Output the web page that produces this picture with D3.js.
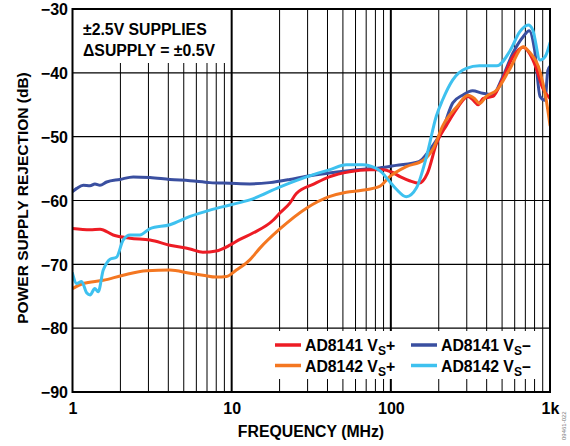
<!DOCTYPE html>
<html><head><meta charset="utf-8">
<script src="https://cdn.jsdelivr.net/npm/d3@7/dist/d3.min.js"></script>
<style>
body{margin:0;background:#fff;}
text{font-family:"Liberation Sans",Arial,sans-serif;font-weight:bold;fill:#000;}
</style></head>
<body><svg id="chart" width="570" height="446"></svg>
<script>
// ---- data (frequency in MHz, rejection in dB) ----
const ad8141PosFreq = [1,1.29,1.49,1.8,2.3,3.07,4.09,5.47,6.6,8.0,9.74,11.25,13.6,18.2,20,23.2,25.5,33,41,55,73.5,90,100,115,131,150,170,194,224,260,305,330,354,380,438,505,585,680,740,820,900,1000];
const ad8141PosDb   = [-64.4,-64.6,-64.5,-65.4,-65.9,-66.2,-67.0,-67.6,-68.1,-67.9,-67.0,-66.1,-65.1,-63.1,-62.0,-60.4,-58.9,-57.4,-56.3,-55.5,-55.2,-55.2,-55.5,-56.3,-56.9,-57.3,-55.7,-51.0,-48.2,-45.6,-43.7,-44.3,-45.0,-44.0,-43.7,-40.9,-37.5,-36.0,-36.9,-39.3,-42.4,-44.0];

const ad8142PosFreq = [1,1.169,1.56,2.08,2.92,4.09,5.47,6.6,8.0,9.3,10.7,13,15,20,29.5,41,52.5,66,85,98,125,160,185,213,260,305,335,360,398,463,562,680,740,866,943,1000];
const ad8142PosDb   = [-73.8,-73.0,-72.5,-71.7,-71.0,-70.9,-71.4,-71.7,-72.0,-71.9,-70.9,-69.3,-67.5,-64.5,-61.2,-59.4,-58.7,-58.4,-57.8,-56.3,-54.7,-53.7,-51.8,-48.2,-45.3,-43.5,-44.0,-44.8,-43.7,-42.7,-39.3,-35.9,-36.7,-39.8,-44.0,-48.2];

const ad8141NegFreq = [1,1.063,1.169,1.288,1.384,1.488,1.639,1.987,2.408,3.065,4.09,5.47,7.3,9.74,13,17.3,23.2,29.5,41,61,85,108,150,176,211,245,282,326,377,437,505,585,680,740,800,866,930,970,1000];
const ad8141NegDb   = [-58.6,-58.1,-57.6,-57.7,-57.4,-57.6,-57.1,-56.7,-56.3,-56.4,-56.7,-56.9,-57.2,-57.3,-57.4,-57.2,-56.7,-56.2,-55.7,-55.2,-54.9,-54.5,-53.9,-52.0,-48.9,-44.7,-43.5,-42.8,-43.2,-43.4,-40.6,-36.9,-34.3,-33.4,-36.4,-43.7,-44.3,-39.6,-39.0];

const ad8142NegFreq = [1,1.063,1.14,1.23,1.29,1.38,1.45,1.56,1.64,1.72,1.89,2.08,2.3,2.65,3.07,4.09,5.47,7.3,9.74,13,20,29.5,41,52.5,66,85,98,108,125,145,168,193,211,245,298,360,463,562,645,730,780,866,930,1000];
const ad8142NegDb   = [-71.4,-73.0,-72.7,-74.5,-74.8,-73.8,-74.3,-70.9,-69.8,-69.2,-68.9,-66.2,-65.4,-65.4,-64.4,-63.8,-62.5,-61.5,-60.7,-59.9,-57.9,-56.3,-55.2,-54.4,-54.4,-55.3,-57.0,-58.2,-59.4,-58.0,-53.0,-46.8,-44.3,-41.1,-39.3,-38.9,-38.9,-36.5,-33.6,-32.5,-33.3,-38.0,-37.5,-35.3];

const seriesNames  = ["AD8141 V", "AD8142 V", "AD8141 V", "AD8142 V"];
const seriesSuffix = ["+", "+", "–", "–"];
const seriesColors = ["#ed1c24", "#f47721", "#3a4fa0", "#3ec1ef"];

const xTickValues = [1, 10, 100, 1000];
const xTickLabels = ["1", "10", "100", "1k"];
const yTickValues = [-90, -80, -70, -60, -50, -40, -30];
const yTickLabels = ["−90", "−80", "−70", "−60", "−50", "−40", "−30"];

const noteLines = ["±2.5V SUPPLIES", "ΔSUPPLY = ±0.5V"];

// ---- layout ----
const svg = d3.select("#chart");
const L = 72.5, R = 550, T = 9, B = 392;
const x = d3.scaleLog().domain([1, 1000]).range([L, R]);
const y = d3.scaleLinear().domain([-90, -30]).range([B, T]);

// grid
const minor = [];
for (let d = 1; d < 1000; d *= 10) for (let k = 2; k <= 9; k++) minor.push(d * k);
const g = svg.append("g");
g.selectAll("line.vmin").data(minor).enter().append("line")
  .attr("x1", d => x(d)).attr("x2", d => x(d)).attr("y1", T).attr("y2", B)
  .attr("stroke", "#000").attr("stroke-width", 1);
g.selectAll("line.vmaj").data([10, 100]).enter().append("line")
  .attr("x1", d => x(d)).attr("x2", d => x(d)).attr("y1", T).attr("y2", B)
  .attr("stroke", "#000").attr("stroke-width", 2);
g.selectAll("line.h").data(yTickValues).enter().append("line")
  .attr("x1", L).attr("x2", R).attr("y1", d => y(d)).attr("y2", d => y(d))
  .attr("stroke", "#000").attr("stroke-width", 1.2);

// note box (covers grid)
svg.append("rect").attr("x", L + 1).attr("y", T + 1).attr("width", 155).attr("height", 53).attr("fill", "#fff");
// legend box
svg.append("rect").attr("x", 269).attr("y", 331).attr("width", 272).attr("height", 48).attr("fill", "#fff");

// curves
svg.append("clipPath").attr("id", "clip").append("rect")
  .attr("x", L).attr("y", T).attr("width", R - L).attr("height", B - T);
const series = [
  {f: ad8141PosFreq, v: ad8141PosDb},
  {f: ad8142PosFreq, v: ad8142PosDb},
  {f: ad8141NegFreq, v: ad8141NegDb},
  {f: ad8142NegFreq, v: ad8142NegDb}
];
const line = d3.line().x(d => x(d[0])).y(d => y(d[1])).curve(d3.curveMonotoneX);
const drawOrder = [2, 0, 1, 3];
const cg = svg.append("g").attr("clip-path", "url(#clip)");
drawOrder.forEach(i => {
  const pts = series[i].f.map((f, j) => [f, series[i].v[j]]);
  cg.append("path").attr("d", line(pts)).attr("fill", "none")
    .attr("stroke", seriesColors[i]).attr("stroke-width", 3)
    .attr("stroke-linejoin", "round").attr("stroke-linecap", "round");
});

// frame
svg.append("rect").attr("x", L).attr("y", T).attr("width", R - L).attr("height", B - T)
  .attr("fill", "none").attr("stroke", "#000").attr("stroke-width", 2);

// axes labels
const xAxis = d3.axisBottom(x).tickValues(xTickValues).tickSize(0).tickPadding(0)
  .tickFormat((d, i) => xTickLabels[i]);
const xa = svg.append("g").attr("transform", `translate(0,${B})`).call(xAxis);
xa.select(".domain").remove();
xa.selectAll("text").attr("dy", null).attr("y", 21.5).attr("font-size", 16)
  .attr("font-family", "Liberation Sans, Arial, sans-serif").attr("font-weight", "bold").attr("fill", "#000");

const yAxis = d3.axisLeft(y).tickValues(yTickValues).tickSize(0).tickPadding(0)
  .tickFormat((d, i) => yTickLabels[i]);
const ya = svg.append("g").attr("transform", `translate(${L - 4.5},0)`).call(yAxis);
ya.select(".domain").remove();
ya.selectAll("text").attr("dy", "0.36em").attr("x", 0).attr("font-size", 16)
  .attr("font-family", "Liberation Sans, Arial, sans-serif").attr("font-weight", "bold").attr("fill", "#000");

svg.append("text").attr("x", 311).attr("y", 437).attr("text-anchor", "middle")
  .attr("font-size", 15.8).text("FREQUENCY (MHz)");
svg.append("text").attr("transform", "translate(28,198) rotate(-90)").attr("text-anchor", "middle")
  .attr("font-size", 15.5).text("POWER SUPPLY REJECTION (dB)");

// note
noteLines.forEach((t, i) => {
  svg.append("text").attr("x", 83).attr("y", 35 + i * 20.7).attr("font-size", 15.8).text(t);
});

// legend
const legPos = [[275, 345], [275, 365.5], [411, 345], [411, 365.5]];
[0, 2, 1, 3].forEach(i => {
  const [lx, ly] = legPos[i];
  svg.append("line").attr("x1", lx).attr("x2", lx + 26).attr("y1", ly).attr("y2", ly)
    .attr("stroke", seriesColors[i]).attr("stroke-width", 3.5);
  const t = svg.append("text").attr("x", lx + 30).attr("y", ly + 6).attr("font-size", 15.8);
  t.append("tspan").text(seriesNames[i]);
  t.append("tspan").attr("dy", 4).attr("font-size", 12).text("S");
  t.append("tspan").attr("dy", -4).text(seriesSuffix[i]);
});

// figure id
svg.append("text").attr("transform", "translate(566,440) rotate(-90)").attr("font-size", 6)
  .style("font-weight", "normal").style("fill", "#777")
  .text("09461-022");
</script></body></html>
